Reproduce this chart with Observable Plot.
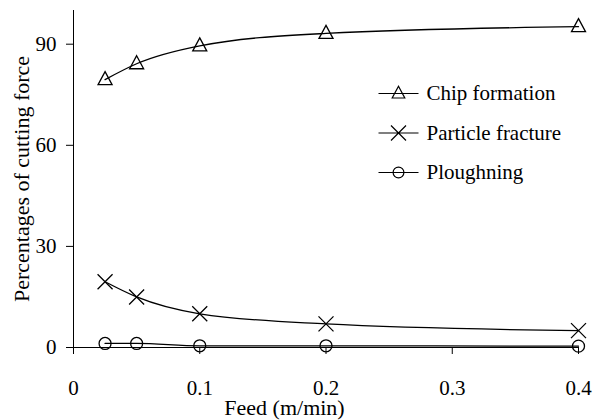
<!DOCTYPE html>
<html>
<head>
<meta charset="utf-8">
<script src="https://cdn.jsdelivr.net/npm/d3@7"></script>
<script src="https://cdn.jsdelivr.net/npm/@observablehq/plot@0.6"></script>
<style>
  html, body { margin: 0; padding: 0; background: white; }
  #xlabel {
    width: 595px; height: 25px; line-height: 25px;
    text-align: center; position: relative; left: -13px;
    font-family: "Liberation Serif", "Times New Roman", serif; font-size: 22px; color: black;
  }
</style>
</head>
<body>
<div id="chart"></div>
<div id="xlabel"></div>
<script>
// ---- Data ----
const feed = [0.025, 0.05, 0.1, 0.2, 0.4];
const chipFormation = [79.5, 84.2, 89.5, 93.2, 95.2];
const particleFracture = [19.5, 15.0, 10.0, 7.0, 5.0];
const ploughing = [1.2, 1.2, 0.5, 0.5, 0.4];
const seriesNames = ["Chip formation", "Particle fracture", "Ploughning"];
const xTicks = [0, 0.1, 0.2, 0.3, 0.4];
const yTicks = [0, 30, 60, 90];
const xLabel = "Feed (m/min)";
const yLabel = "Percentages of cutting force";

const FONT = "Liberation Serif, Times New Roman, serif";

// ---- Symbols ----
function triangle(s) {
  return {draw(c) { c.moveTo(0, -8 * s); c.lineTo(7 * s, 5 * s); c.lineTo(-7 * s, 5 * s); c.closePath(); }};
}
function cross(s) {
  return {draw(c) { c.moveTo(-7.5 * s, -7.5 * s); c.lineTo(7.5 * s, 7.5 * s); c.moveTo(7.5 * s, -7.5 * s); c.lineTo(-7.5 * s, 7.5 * s); }};
}
function circle(s) {
  return {draw(c) { c.moveTo(6 * s, 0); c.arc(0, 0, 6 * s, 0, 2 * Math.PI); }};
}
function withLine(sym) {
  return {draw(c, size) { c.moveTo(-20, 0); c.lineTo(20, 0); sym.draw(c, size); }};
}

const seriesValues = [chipFormation, particleFracture, ploughing];
const chartSymbols = [triangle(1), cross(1), circle(1)];
const legendSymbols = [triangle(0.9), cross(1), circle(0.9)];

const rows = [];
seriesNames.forEach((name, k) => {
  feed.forEach((f, i) => rows.push({series: name, feed: f, value: seriesValues[k][i]}));
});

const marks = [
  Plot.ruleX([0], {stroke: "black", strokeWidth: 1}),
  Plot.ruleY([0], {stroke: "black", strokeWidth: 1}),
  Plot.axisX(xTicks, {tickSize: 7, tickPadding: 26, label: null, tickFormat: d => String(d), fontSize: 21, fontFamily: FONT}),
  Plot.axisY(yTicks, {tickSize: 7, tickPadding: 10, label: null, tickFormat: d => String(d), fontSize: 21, fontFamily: FONT}),
  Plot.text([yLabel], {frameAnchor: "left", dx: -52, rotate: -90, lineAnchor: "middle", textAnchor: "middle", fontSize: 22, fontFamily: FONT, text: d => d})
];

seriesNames.forEach((name, k) => {
  const data = rows.filter(r => r.series === name);
  marks.push(Plot.line(data, {x: "feed", y: "value", curve: "monotone-x", stroke: "black", strokeWidth: 1.3}));
  marks.push(Plot.dot(data, {x: "feed", y: "value", symbol: chartSymbols[k], stroke: "black", fill: "none", strokeWidth: 1.3}));
  // legend row
  marks.push(Plot.dot([name], {frameAnchor: "top-left", dx: 325, dy: 83 + k * 39.5, symbol: withLine(legendSymbols[k]), stroke: "black", fill: "none", strokeWidth: 1.2}));
  marks.push(Plot.text([name], {frameAnchor: "top-left", dx: 353, dy: 83 + k * 39.5, text: d => d, textAnchor: "start", lineAnchor: "middle", fontSize: 21, fontFamily: FONT}));
});

const chart = Plot.plot({
  width: 595,
  height: 395,
  marginLeft: 73,
  marginRight: 17,
  marginTop: 10,
  marginBottom: 48,
  style: {fontFamily: FONT, fontSize: "21px"},
  x: {domain: [0, 0.4]},
  y: {domain: [0, 100]},
  marks
});
chart.setAttribute("font-family", FONT);
d3.select(chart).selectAll("g, text").attr("font-family", FONT);
document.getElementById("chart").appendChild(chart);
document.getElementById("xlabel").textContent = xLabel;
</script>
</body>
</html>
